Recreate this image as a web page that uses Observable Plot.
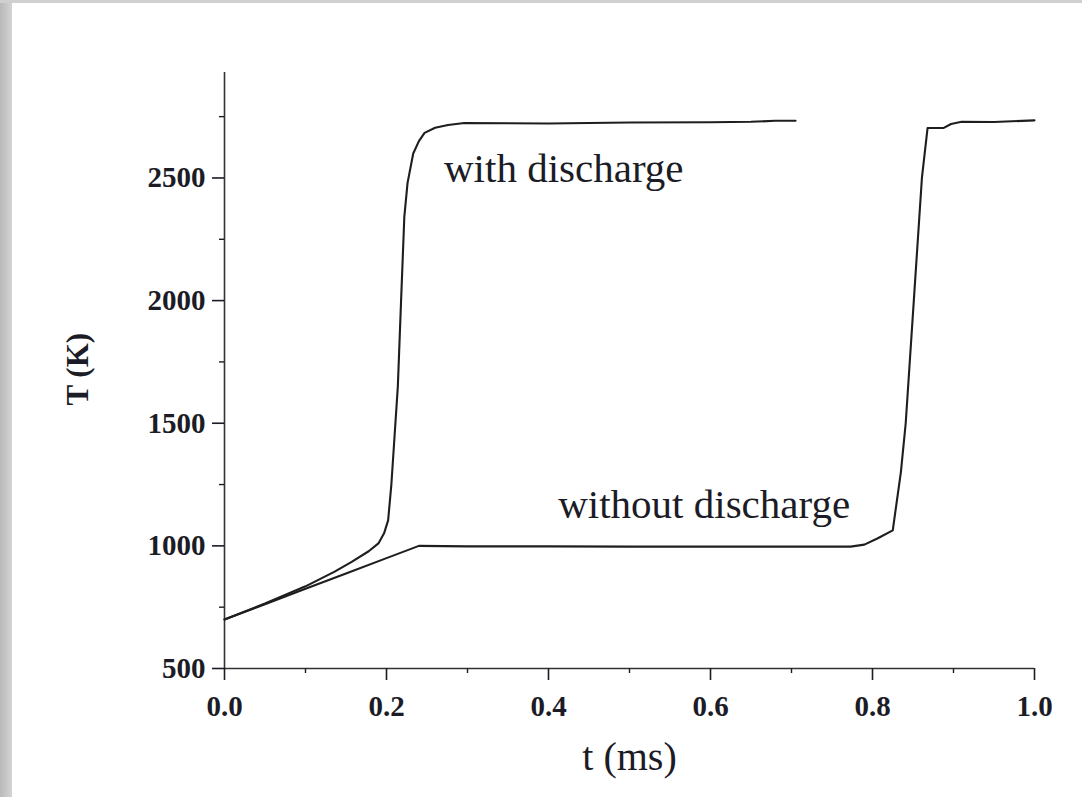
<!DOCTYPE html>
<html><head><meta charset="utf-8">
<script src="https://cdn.jsdelivr.net/npm/d3@7"></script>
<script src="https://cdn.jsdelivr.net/npm/@observablehq/plot@0.6"></script>
<style>
html,body{margin:0;padding:0;background:#fff;}
#wrap{position:relative;width:1082px;height:797px;overflow:hidden;background:#fff;}
#wrap svg{display:block;}
.strip-left{position:absolute;left:0;top:0;width:12px;height:797px;background:linear-gradient(to right,#b9b9b9,#d4d4d4);}
.strip-top{position:absolute;left:0;top:0;width:1082px;height:3px;background:#d0d0d0;}
</style></head><body><div id="wrap"><div class="strip-left"></div><div class="strip-top"></div></div>
<script>
// Series names
const seriesNames = ["with discharge", "without discharge"];
// with discharge
const tWith = [0, 0.05, 0.1, 0.136, 0.157, 0.178, 0.19, 0.197, 0.202, 0.206, 0.210, 0.214, 0.218, 0.222, 0.226, 0.233, 0.24, 0.247, 0.26, 0.276, 0.296, 0.4, 0.5, 0.6, 0.65, 0.68, 0.705];
const TWith = [700, 765, 835, 895, 935, 978, 1010, 1051, 1104, 1250, 1450, 1650, 2000, 2341, 2480, 2600, 2650, 2684, 2705, 2716, 2724, 2722, 2726, 2727, 2729, 2733, 2733];
// without discharge
const tWithout = [0, 0.05, 0.1, 0.15, 0.2, 0.24, 0.3, 0.4, 0.5, 0.6, 0.7, 0.773, 0.79, 0.806, 0.825, 0.835, 0.841, 0.851, 0.861, 0.868, 0.888, 0.897, 0.91, 0.95, 1.0];
const TWithout = [700, 762, 825, 887, 950, 1000, 998, 998, 997, 997, 997, 997, 1005, 1030, 1063, 1300, 1500, 2000, 2500, 2704, 2704, 2720, 2729, 2728, 2735];
// ticks
const xTicks = [0, 0.2, 0.4, 0.6, 0.8, 1.0];
const xMinor = [0.1, 0.3, 0.5, 0.7, 0.9];
const yTicks = [500, 1000, 1500, 2000, 2500];
const yMinor = [750, 1250, 1750, 2250, 2750];
// annotations
const annoText = ["with discharge", "without discharge"];
const annoT = [0.271, 0.412];
const annoY = [2484, 1112];

const rows = [
  ...tWith.map((t, i) => ({series: seriesNames[0], t, T: TWith[i]})),
  ...tWithout.map((t, i) => ({series: seriesNames[1], t, T: TWithout[i]}))
];
const annos = annoText.map((text, i) => ({text, t: annoT[i], T: annoY[i]}));

const serif = "'Liberation Serif','Times New Roman',serif";
const ink = "#1c1c26";
const chart = Plot.plot({
  width: 1082, height: 797,
  marginLeft: 224, marginRight: 48, marginTop: 72, marginBottom: 129,
  x: {domain: [0, 1]},
  y: {domain: [500, 2930]},
  style: {background: "transparent", fontFamily: serif, color: ink},
  marks: [
    Plot.ruleX([0], {stroke: "#333", strokeWidth: 1.6}),
    Plot.ruleY([500], {stroke: "#333", strokeWidth: 1.6}),
    Plot.axisX({ticks: xTicks, tickSize: 12, tickPadding: 15, tickFormat: d => d.toFixed(1), fontSize: 29, fontWeight: "bold", label: null, strokeWidth: 1.6}),
    Plot.axisX({ticks: xMinor, tickSize: 5, tickFormat: () => "", label: null, strokeWidth: 1.4}),
    Plot.axisY({ticks: yTicks, tickSize: 12, tickPadding: 7, tickFormat: d => String(d), fontSize: 29, fontWeight: "bold", label: null, strokeWidth: 1.6}),
    Plot.axisY({ticks: yMinor, tickSize: 5, tickFormat: () => "", label: null, strokeWidth: 1.4}),
    Plot.line(rows, {x: "t", y: "T", z: "series", stroke: "#1e1e1e", strokeWidth: 2.1, curve: "linear"}),
    Plot.text(annos, {x: "t", y: "T", text: "text", textAnchor: "start", lineAnchor: "bottom", fontSize: 41, fill: ink}),
    Plot.text(["T (K)"], {frameAnchor: "left", dx: -146, dy: 35, rotate: -90, fontSize: 31, fontWeight: "bold", lineAnchor: "middle", fill: ink}),
    Plot.text(["t (ms)"], {frameAnchor: "bottom", dy: 101, fontSize: 40, lineAnchor: "bottom", fill: ink})
  ]
});
chart.style.position = "absolute";
chart.style.left = "0";
chart.style.top = "0";
document.getElementById("wrap").appendChild(chart);
document.querySelectorAll(".strip-left,.strip-top").forEach(el => { el.style.zIndex = 2; });
</script>
</body></html>
